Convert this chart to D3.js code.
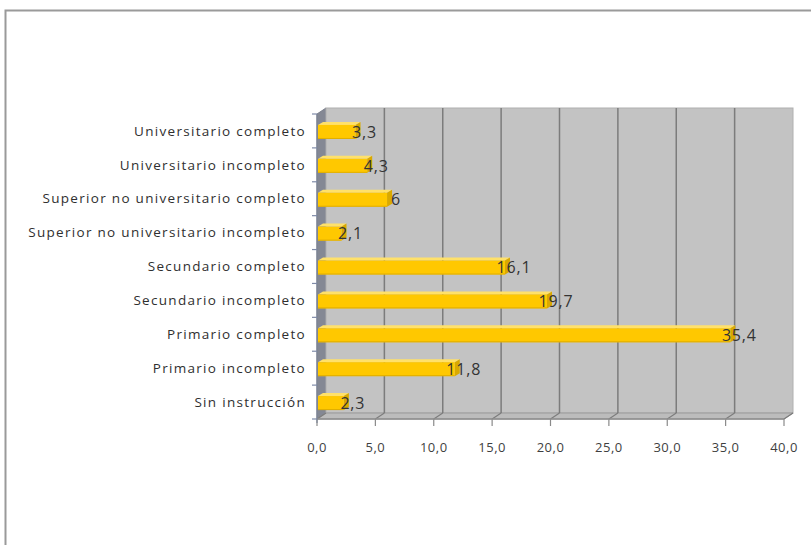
<!DOCTYPE html>
<html>
<head>
<meta charset="utf-8">
<script src="https://cdn.jsdelivr.net/npm/d3@7"></script>
<style>
  html, body { margin: 0; padding: 0; background: #fff; }
  svg { display: block; }
</style>
</head>
<body>
<svg id="chart" width="811" height="545"></svg>
<script>
// ---- data (top to bottom as shown) ----
const categories = [
  "Universitario completo",
  "Universitario incompleto",
  "Superior no universitario completo",
  "Superior no universitario incompleto",
  "Secundario completo",
  "Secundario incompleto",
  "Primario completo",
  "Primario incompleto",
  "Sin instrucción"
];
const values = [3.3, 4.3, 6, 2.1, 16.1, 19.7, 35.4, 11.8, 2.3];
const tickValues = [0, 5, 10, 15, 20, 25, 30, 35, 40];
const tickLabels = ["0,0", "5,0", "10,0", "15,0", "20,0", "25,0", "30,0", "35,0", "40,0"];

const svg = d3.select("#chart");
const W = 811, H = 545;

// outer chart border
svg.append("rect").attr("x", 5.5).attr("y", 10.5).attr("width", W + 10).attr("height", H + 10)
  .attr("fill", "#fff").attr("stroke", "#9a9a9a").attr("stroke-width", 2);

// 3D geometry
const DX = 9, DY = -6;           // depth offset (front -> back)
const x = d3.scaleLinear().domain([0, 40]).range([317, 784]);   // front plane
const xb = v => x(v) + DX;                                        // back plane
const y = d3.scaleBand().domain(categories).range([114, 419]).paddingInner(0).paddingOuter(0);
const yTop = 114, yBot = 419;

// left wall
svg.append("polygon")
  .attr("points", [[x(0), yTop], [xb(0), yTop + DY], [xb(0), yBot + DY], [x(0), yBot]].map(p => p.join(",")).join(" "))
  .attr("fill", "#848894").attr("stroke", "#7a7f8c").attr("stroke-width", 1);

// back wall
svg.append("rect").attr("x", xb(0)).attr("y", yTop + DY).attr("width", xb(40) - xb(0)).attr("height", yBot - yTop)
  .attr("fill", "#c3c3c3").attr("stroke", "#b0b0b0").attr("stroke-width", 1);

// floor
svg.append("polygon")
  .attr("points", [[x(0), yBot], [xb(0), yBot + DY], [xb(40), yBot + DY], [x(40), yBot]].map(p => p.join(",")).join(" "))
  .attr("fill", "#bcbcbc").attr("stroke", "#9a9a9a").attr("stroke-width", 1);

// gridlines on back wall + floor
const grid = svg.append("g");
tickValues.forEach(v => {
  if (v > 0 && v < 40) {
    grid.append("line").attr("x1", xb(v)).attr("x2", xb(v)).attr("y1", yTop + DY).attr("y2", yBot + DY)
      .attr("stroke", "#7c7c7c").attr("stroke-width", 1.5);
  }
  grid.append("line").attr("x1", xb(v)).attr("y1", yBot + DY).attr("x2", x(v)).attr("y2", yBot)
    .attr("stroke", "#7c7c7c").attr("stroke-width", 1.2);
  grid.append("line").attr("x1", x(v)).attr("x2", x(v)).attr("y1", yBot).attr("y2", yBot + 7)
    .attr("stroke", "#8a8a8a").attr("stroke-width", 1.2);
});
// front floor edge (axis line)
svg.append("line").attr("x1", x(0)).attr("x2", x(40)).attr("y1", yBot).attr("y2", yBot)
  .attr("stroke", "#8e8e8e").attr("stroke-width", 1.5);
// vertical axis line + category ticks
svg.append("line").attr("x1", x(0)).attr("x2", x(0)).attr("y1", yTop).attr("y2", yBot + 4)
  .attr("stroke", "#7e8696").attr("stroke-width", 1.2);
categories.forEach(c => {
  const yy = y(c);
  svg.append("line").attr("x1", x(0) - 5).attr("x2", x(0)).attr("y1", yy).attr("y2", yy)
    .attr("stroke", "#7e8aa8").attr("stroke-width", 1.2);
});
svg.append("line").attr("x1", x(0) - 5).attr("x2", x(0)).attr("y1", yBot).attr("y2", yBot)
  .attr("stroke", "#7e8aa8").attr("stroke-width", 1.2);

// bars (3D)
const bh = 14, bdx = 5, bdy = -3;
const bars = svg.append("g");
categories.forEach((c, i) => {
  const v = values[i];
  const cy = y(c) + y.bandwidth() / 2 + 1;
  const x0 = x(0) + 1, x1 = x(v);
  const yt = cy - bh / 2, yb = cy + bh / 2;
  bars.append("polygon")
    .attr("points", [[x0, yt], [x0 + bdx, yt + bdy], [x1 + bdx, yt + bdy], [x1, yt]].map(p => p.join(",")).join(" "))
    .attr("fill", "#ffe16a");
  bars.append("polygon")
    .attr("points", [[x1, yt], [x1 + bdx, yt + bdy], [x1 + bdx, yb + bdy], [x1, yb]].map(p => p.join(",")).join(" "))
    .attr("fill", "#d9a900");
  bars.append("rect").attr("x", x0).attr("y", yt).attr("width", x1 - x0).attr("height", bh)
    .attr("fill", "#ffc800");
  bars.append("line").attr("x1", x0).attr("x2", x1).attr("y1", yb - 0.5).attr("y2", yb - 0.5)
    .attr("stroke", "#e0ae00").attr("stroke-width", 1);
});

// value labels
const fmt = v => String(v).replace(".", ",");
svg.append("g").selectAll("text").data(categories).join("text")
  .attr("x", (c, i) => xb(values[i]))
  .attr("y", c => y(c) + y.bandwidth() / 2 + 1)
  .attr("dy", "0.36em")
  .attr("text-anchor", "middle")
  .attr("font-family", "Open Sans, sans-serif")
  .attr("font-size", 16)
  .attr("letter-spacing", 0.8)
  .attr("fill", "#333")
  .text((c, i) => fmt(values[i]));

// category labels
svg.append("g").selectAll("text").data(categories).join("text")
  .attr("x", 306)
  .attr("y", c => y(c) + y.bandwidth() / 2)
  .attr("dy", "0.35em")
  .attr("text-anchor", "end")
  .attr("font-family", "Open Sans, sans-serif")
  .attr("font-size", 13.5)
  .attr("letter-spacing", 1.3)
  .attr("fill", "#2f2f2f")
  .text(c => c);

// x tick labels
svg.append("g").selectAll("text").data(tickValues).join("text")
  .attr("x", v => x(v))
  .attr("y", 447)
  .attr("dy", "0.35em")
  .attr("text-anchor", "middle")
  .attr("font-family", "Open Sans, sans-serif")
  .attr("font-size", 13)
  .attr("letter-spacing", 0.5)
  .attr("fill", "#3f3f3f")
  .text((v, i) => tickLabels[i]);
</script>
</body>
</html>
